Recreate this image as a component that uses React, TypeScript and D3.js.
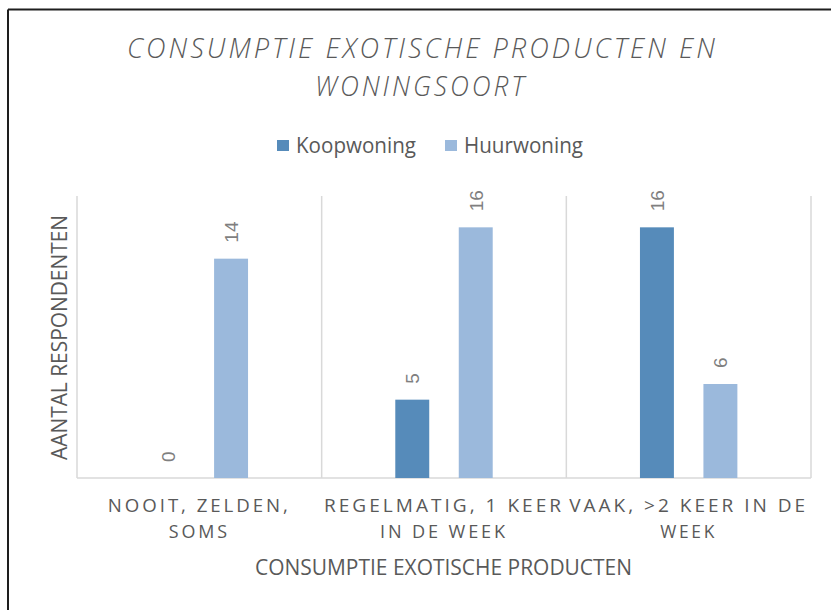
import React from "react";
import * as d3 from "d3";

const categories = ["NOOIT, ZELDEN, SOMS", "REGELMATIG, 1 KEER IN DE WEEK", "VAAK, >2 KEER IN DE WEEK"];
const categoryLines = [["NOOIT, ZELDEN,", "SOMS"], ["REGELMATIG, 1 KEER", "IN DE WEEK"], ["VAAK, >2 KEER IN DE", "WEEK"]];
const series = ["Koopwoning", "Huurwoning"];
const koopValues = [0, 5, 16];
const huurValues = [14, 16, 6];
const titleLines = ["CONSUMPTIE EXOTISCHE PRODUCTEN EN", "WONINGSOORT"];
const xTitle = "CONSUMPTIE EXOTISCHE PRODUCTEN";
const yTitle = "AANTAL RESPONDENTEN";

// layout / style (not data)
const W = 831, H = 610;
const plot = { left: 77, right: 811, top: 196, bottom: 478 };
const colors = ["#568BBA", "#9BB9DC"];
const textColor = "#595959";
const labelColor = "#7F7F7F";
const gridColor = "#D9D9D9";
const catLineWidths = [[183, 61], [240, 128], [239, 57]];
const font = "'Open Sans', 'Liberation Sans', sans-serif";

export default function App() {
  const x0 = d3.scaleBand<string>().domain(categories).range([plot.left, plot.right]).padding(0);
  const x1 = d3.scaleBand<string>().domain(series).range([0, x0.bandwidth()]).paddingInner(0.465).paddingOuter(1.16);
  const y = d3.scaleLinear().domain([0, 18]).range([plot.bottom, plot.top]);
  const values = [koopValues, huurValues];
  const boundaries = [...categories.map((c) => x0(c) as number), plot.right];

  return (
    <svg width={W} height={H} style={{ position: "absolute", left: 0, top: 0, background: "#fff" }} fontFamily={font}>
      <rect x={0} y={0} width={W} height={H} fill="#fff" />
      {/* frame */}
      <line x1={8} y1={9.5} x2={W} y2={9.5} stroke="#1e1e1e" strokeWidth={2} />
      <line x1={8} y1={9.5} x2={8} y2={H} stroke="#1e1e1e" strokeWidth={2} />

      {/* title */}
      <text x={127} y={58} fontSize={27} fontStyle="italic" fontWeight={300} fill={textColor}
        letterSpacing={3} textLength={591} lengthAdjust="spacingAndGlyphs">{titleLines[0]}</text>
      <text x={315} y={96} fontSize={27} fontStyle="italic" fontWeight={300} fill={textColor}
        letterSpacing={3} textLength={212} lengthAdjust="spacingAndGlyphs">{titleLines[1]}</text>

      {/* legend */}
      <rect x={277} y={140} width={12} height={11} fill={colors[0]} />
      <text x={296} y={153} fontSize={21} fill={textColor} textLength={120} lengthAdjust="spacingAndGlyphs">{series[0]}</text>
      <rect x={445} y={140} width={12} height={11} fill={colors[1]} />
      <text x={464} y={153} fontSize={21} fill={textColor} textLength={119} lengthAdjust="spacingAndGlyphs">{series[1]}</text>

      {/* grid */}
      {boundaries.map((bx, i) => (
        <line key={"g" + i} x1={bx} x2={bx} y1={plot.top} y2={plot.bottom} stroke={gridColor} strokeWidth={1.5} />
      ))}
      <line x1={plot.left} x2={plot.right} y1={plot.bottom} y2={plot.bottom} stroke={gridColor} strokeWidth={1.5} />

      {/* bars */}
      {categories.map((c, ci) =>
        series.map((s, si) => {
          const v = values[si][ci];
          const bx = (x0(c) as number) + (x1(s) as number);
          const bw = x1.bandwidth();
          const top = y(v);
          const cx = bx + bw / 2;
          return (
            <g key={c + s}>
              {v > 0 && <rect x={bx} y={top} width={bw} height={plot.bottom - top} fill={colors[si]} />}
              <text transform={`translate(${cx + 7},${top - 16}) rotate(-90)`} fontSize={19} fill={labelColor}
                fontFamily="'Liberation Sans', Arial, sans-serif">{v}</text>
            </g>
          );
        })
      )}

      {/* category labels */}
      {categories.map((c, ci) => {
        const cx = (x0(c) as number) + x0.bandwidth() / 2;
        return categoryLines[ci].map((ln, li) => {
          const w = catLineWidths[ci][li];
          return (
            <text key={c + li} x={cx - w / 2} y={511.5 + li * 26.5} fontSize={19} fill={textColor}
              letterSpacing={3} textLength={w} lengthAdjust="spacingAndGlyphs">{ln}</text>
          );
        });
      })}

      {/* axis titles */}
      <text x={255} y={575} fontSize={22} fill={textColor} textLength={377} lengthAdjust="spacingAndGlyphs">{xTitle}</text>
      <text transform="translate(66.5,460) rotate(-90)" fontSize={22} fill={textColor}
        textLength={245} lengthAdjust="spacingAndGlyphs">{yTitle}</text>
    </svg>
  );
}
